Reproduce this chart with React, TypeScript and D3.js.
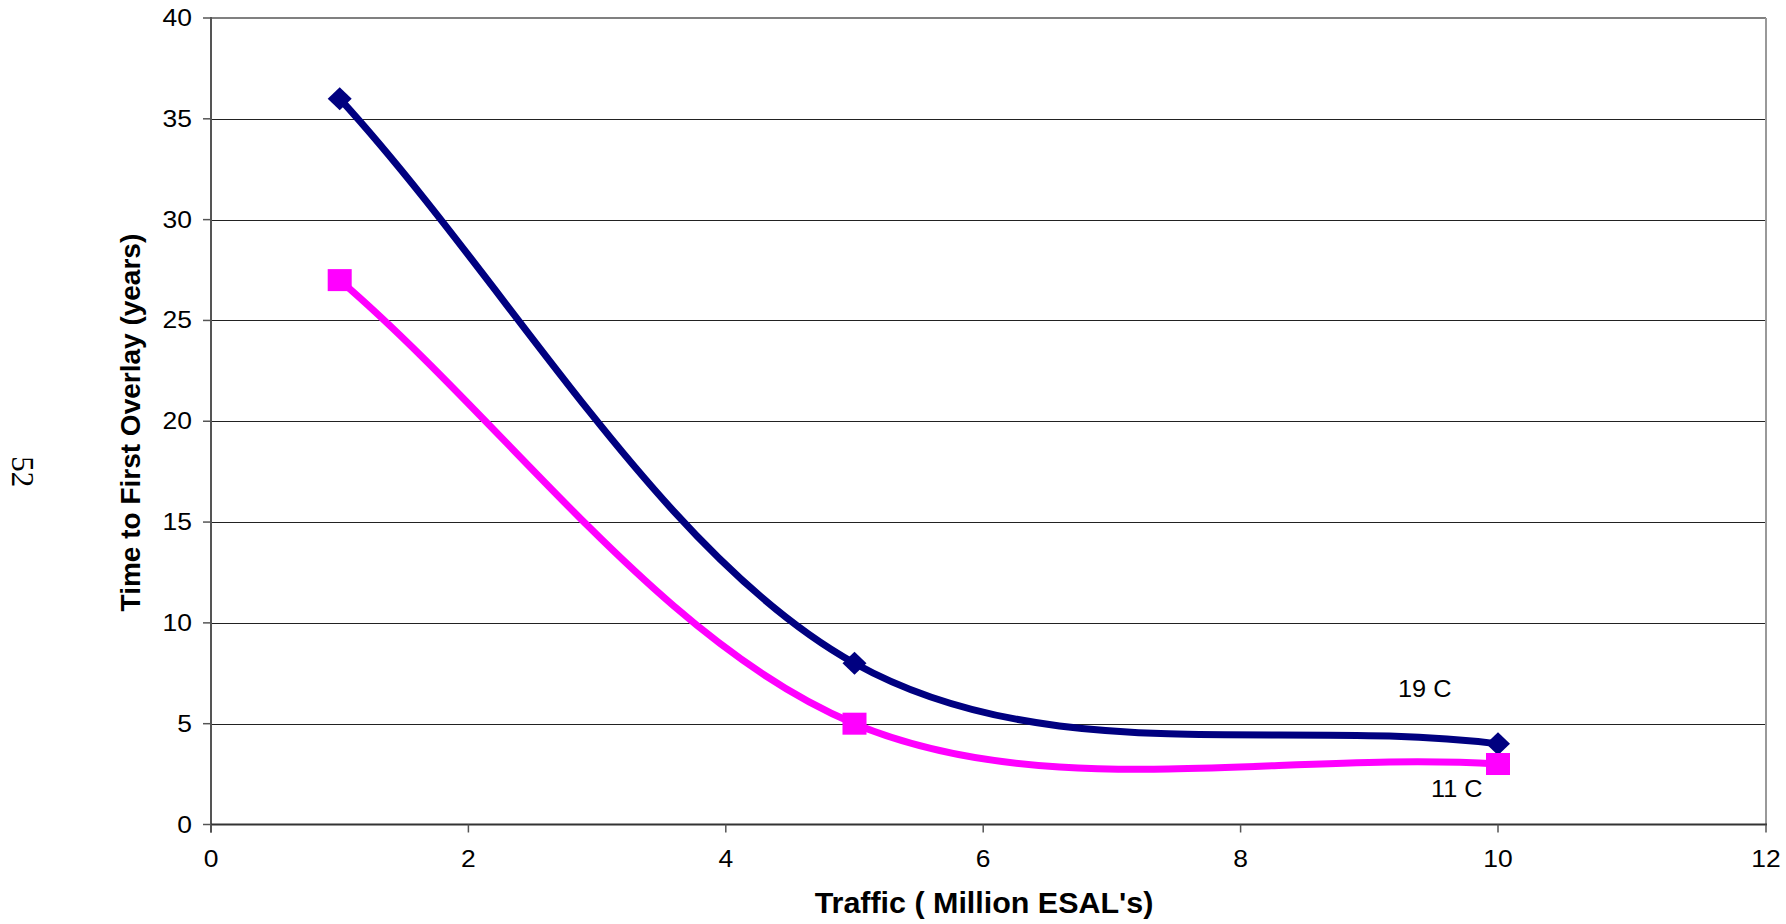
import React from "react";
import * as d3 from "d3";

const traffic = [1, 5, 10];
const series19C = [36, 8, 4];
const series11C = [27, 5, 3];
const xTicks = [0, 2, 4, 6, 8, 10, 12];
const yTicks = [0, 5, 10, 15, 20, 25, 30, 35, 40];
const seriesLabels = ["19 C", "11 C"];

const W = 1786;
const H = 924;
const X0 = 211;
const X10 = 1498;
const X12 = 1766;
const Y0 = 824.5;
const Y1 = 18;

type Pt = [number, number];

// Excel-like smoothed line: cubic Bezier, interior tangents (P[i+1]-P[i-1])/6,
// end control points a third of the way along the end chord.
function smoothPath(pts: Pt[]): string {
  const p = d3.path();
  const n = pts.length;
  p.moveTo(pts[0][0], pts[0][1]);
  for (let i = 0; i < n - 1; i++) {
    const a = pts[i];
    const b = pts[i + 1];
    let c1: Pt;
    let c2: Pt;
    if (i === 0) {
      c1 = [a[0] + (b[0] - a[0]) / 3, a[1] + (b[1] - a[1]) / 3];
    } else {
      const pr = pts[i - 1];
      c1 = [a[0] + (b[0] - pr[0]) / 6, a[1] + (b[1] - pr[1]) / 6];
    }
    if (i + 1 === n - 1) {
      c2 = [b[0] - (b[0] - a[0]) / 3, b[1] - (b[1] - a[1]) / 3];
    } else {
      const nx = pts[i + 2];
      c2 = [b[0] - (nx[0] - a[0]) / 6, b[1] - (nx[1] - a[1]) / 6];
    }
    p.bezierCurveTo(c1[0], c1[1], c2[0], c2[1], b[0], b[1]);
  }
  return p.toString();
}

export default function App() {
  const x = d3.scaleLinear().domain([0, 10, 12]).range([X0, X10, X12]);
  const y = d3.scaleLinear().domain([0, 40]).range([Y0, Y1]);
  const X1 = x(12);

  const blue: Pt[] = traffic.map((t, i) => [x(t), y(series19C[i])]);
  const pink: Pt[] = traffic.map((t, i) => [x(t), y(series11C[i])]);

  const font = "'Liberation Sans', Arial, sans-serif";

  return (
    <svg
      width={W}
      height={H}
      style={{ position: "absolute", left: 0, top: 0, background: "#fff" }}
    >
      {yTicks.slice(1, -1).map((t) => (
        <line
          key={"g" + t}
          x1={X0}
          x2={X1}
          y1={Math.round(y(t)) + 0.5}
          y2={Math.round(y(t)) + 0.5}
          stroke="#222"
          strokeWidth={1}
        />
      ))}
      <line x1={X0} x2={X1} y1={y(40)} y2={y(40)} stroke="#808080" strokeWidth={2} />
      <line x1={X1} x2={X1} y1={Y1} y2={Y0} stroke="#999" strokeWidth={2} />
      <line x1={X0} x2={X0} y1={Y1 - 1} y2={Y0 + 8} stroke="#555" strokeWidth={2} />
      <line x1={X0} x2={X1 + 1} y1={Y0} y2={Y0} stroke="#333" strokeWidth={2} />
      {yTicks.map((t) => (
        <g key={"yt" + t}>
          <line x1={X0 - 8} x2={X0} y1={y(t)} y2={y(t)} stroke="#555" strokeWidth={1.5} />
          <text
            transform={`translate(${X0 - 19},${y(t) + 8}) scale(1.15,1)`}
            textAnchor="end"
            fontFamily={font}
            fontSize={23}
            fill="#000"
          >
            {t}
          </text>
        </g>
      ))}
      {xTicks.map((t) => (
        <g key={"xt" + t}>
          <line x1={x(t)} x2={x(t)} y1={Y0} y2={Y0 + 8} stroke="#555" strokeWidth={1.5} />
          <text
            transform={`translate(${x(t)},${867}) scale(1.15,1)`}
            textAnchor="middle"
            fontFamily={font}
            fontSize={23}
            fill="#000"
          >
            {t}
          </text>
        </g>
      ))}
      <path d={smoothPath(blue)} fill="none" stroke="#000080" strokeWidth={7} />
      <path d={smoothPath(pink)} fill="none" stroke="#FF00FF" strokeWidth={7} />
      {blue.map((d, i) => {
        const [cx, cy] = d;
        return (
          <path
            key={"b" + i}
            d={`M${cx - 12},${cy} L${cx},${cy - 11.5} L${cx + 12},${cy} L${cx},${cy + 11.5} Z`}
            fill="#000080"
          />
        );
      })}
      {pink.map((d, i) => (
        <rect key={"p" + i} x={d[0] - 12} y={d[1] - 11} width={24} height={22} fill="#FF00FF" />
      ))}
      <text transform={`translate(1398,697) scale(1.1,1)`} fontFamily={font} fontSize={23} fill="#000">
        {seriesLabels[0]}
      </text>
      <text transform={`translate(1431,797) scale(1.1,1)`} fontFamily={font} fontSize={23} fill="#000">
        {seriesLabels[1]}
      </text>
      <text
        transform={`translate(984,913) scale(1.05,1)`}
        textAnchor="middle"
        fontFamily={font}
        fontWeight="bold"
        fontSize={29}
        fill="#000"
      >
        Traffic ( Million ESAL's)
      </text>
      <text
        transform={`translate(140,422.6) rotate(-90)`}
        textAnchor="middle"
        fontFamily={font}
        fontWeight="bold"
        fontSize={28}
        fill="#000"
      >
        Time to First Overlay (years)
      </text>
      <text
        transform={`translate(12,471.7) rotate(90)`}
        textAnchor="middle"
        fontFamily="'Liberation Serif', 'Times New Roman', serif"
        fontSize={31}
        fill="#000"
      >
        52
      </text>
    </svg>
  );
}
